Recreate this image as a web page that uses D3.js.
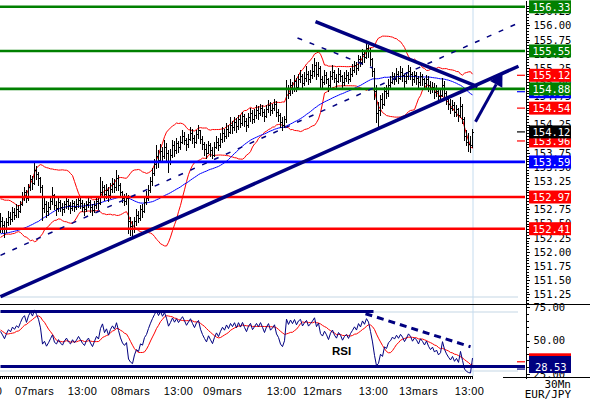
<!DOCTYPE html>
<html lang="en">
<head>
<meta charset="UTF-8">
<title>EUR/JPY 30Mn</title>
<script src="https://d3js.org/d3.v7.min.js"></script>
<style>
  body { margin: 0; background: #fff; }
  svg { display: block; }
  .ax text { font-family: "DejaVu Sans Mono", monospace; font-size: 10.5px; fill: #000; }
  .ax path, .ax line { stroke: #000; shape-rendering: crispEdges; }
  .xlab { font-family: "Liberation Sans", Arial, sans-serif; font-size: 11px; letter-spacing: 0.4px; }
  .tag text { font-family: "DejaVu Sans Mono", monospace; font-size: 10.5px; fill: #fff; }
  .foot { font-family: "DejaVu Sans Mono", monospace; font-size: 11px; }
</style>
</head>
<body>
<svg id="chart" width="590" height="400"></svg>
<script>
// closes before the first visible bar (only used to warm up the indicators)
const prior = [151.72, 151.65, 151.80, 151.70, 151.62, 151.78, 151.85, 151.75, 151.90, 151.95,
  152.25, 152.35, 152.28, 152.45, 152.60, 152.72, 152.85, 152.78, 152.90, 152.82,
  152.70, 152.75, 152.62, 152.55, 152.68, 152.50, 152.42, 152.55, 152.48, 152.40];

// 30 min bars, open = previous close
const hi = [152.68, 152.62, 152.55, 152.60, 152.72, 152.70, 152.80, 152.78, 152.84, 152.82,
  152.90, 153.05, 153.15, 153.10, 153.20, 153.35, 153.34, 153.58, 153.52, 153.42,
  153.32, 153.18, 152.95, 152.90, 152.88, 152.98, 153.15, 153.02, 152.90, 152.95,
  152.92, 152.86, 152.90, 152.96, 152.94, 152.88, 152.92, 152.90, 152.94, 152.98,
  152.95, 152.92, 152.86, 152.90, 152.96, 152.92, 152.84, 152.90, 152.98, 152.96,
  153.32, 153.25, 153.18, 153.20, 153.15, 153.22, 153.30, 153.28, 153.45,
  153.35, 153.22, 153.08, 153.02, 153.04, 153.00, 152.62, 152.55,
  152.62, 152.75, 152.72, 152.82, 152.85, 152.96, 153.08, 153.18, 153.32, 153.48, 153.65, 153.88,
  153.80, 153.90, 153.86, 153.98, 153.92, 153.80, 153.82, 153.98, 153.96, 154.02,
  153.96, 154.05, 154.15, 154.12, 154.02, 154.08, 154.20, 154.18, 154.06, 154.15, 154.25,
  154.15, 154.05, 153.95, 153.90, 153.96, 153.92, 153.85, 153.95, 154.05, 154.02, 154.10,
  154.20, 154.18, 154.28, 154.24, 154.38, 154.32,
  154.38, 154.36, 154.42, 154.42, 154.48, 154.44, 154.36, 154.45, 154.55, 154.50, 154.52, 154.60,
  154.58, 154.62, 154.60, 154.52, 154.60, 154.68, 154.64, 154.62, 154.70, 154.66, 154.52,
  154.45, 154.38, 154.40,
  155.04,
  154.95, 155.05, 155.00, 155.12, 155.08, 155.15, 155.22, 155.15, 155.18, 155.28, 155.20, 155.22, 155.32,
  155.42, 155.36, 155.35, 155.28,
  155.10, 155.22, 155.18, 155.08, 155.20, 155.30, 155.22, 155.14, 155.25, 155.22, 155.12, 155.18, 155.22, 155.18, 155.25, 155.32,
  155.38, 155.36, 155.48, 155.46, 155.58, 155.55, 155.69, 155.66, 155.60,
  155.42, 155.25, 154.95, 154.65,
  154.78, 154.80, 154.92, 154.95, 155.05, 155.10,
  155.18, 155.16, 155.25, 155.20, 155.28, 155.24, 155.15, 155.18, 155.30, 155.26, 155.18, 155.20, 155.18, 155.10, 155.18, 155.15, 155.08, 155.12,
  155.10, 155.02, 155.00, 154.98, 154.95, 154.90, 154.88, 155.08, 155.02, 154.85,
  154.75, 154.70, 154.68, 154.64, 154.60, 154.55, 154.74, 154.62,
  154.38, 154.15, 154.10, 154.05, 154.18];

const lo = [152.36, 152.36, 152.27, 152.36, 152.48, 152.50, 152.55, 152.58, 152.62, 152.62,
  152.70, 152.82, 152.92, 152.88, 152.92, 153.10, 153.12, 153.20, 153.28, 153.18,
  153.05, 152.56, 152.70, 152.62, 152.66, 152.76, 152.85, 152.75, 152.65, 152.72,
  152.72, 152.66, 152.70, 152.78, 152.75, 152.68, 152.74, 152.72, 152.76, 152.80,
  152.78, 152.72, 152.66, 152.72, 152.80, 152.70, 152.66, 152.70, 152.78, 152.76,
  152.85, 152.98, 152.92, 152.95, 152.90, 152.96, 153.05, 153.05, 153.10,
  153.10, 153.00, 152.88, 152.82, 152.85, 152.33, 152.30, 152.26,
  152.35, 152.48, 152.52, 152.56, 152.62, 152.70, 152.85, 152.92, 153.05, 153.18, 153.35, 153.48,
  153.50, 153.58, 153.62, 153.66, 153.62, 153.42, 153.55, 153.68, 153.70, 153.75,
  153.76, 153.82, 153.92, 153.90, 153.80, 153.86, 153.98, 153.92, 153.86, 153.92, 154.02,
  153.92, 153.82, 153.72, 153.66, 153.74, 153.70, 153.66, 153.70, 153.84, 153.80, 153.86,
  153.95, 153.96, 154.02, 154.04, 154.10, 154.10,
  154.15, 154.12, 154.18, 154.20, 154.24, 154.22, 154.14, 154.20, 154.32, 154.28, 154.30, 154.36,
  154.35, 154.42, 154.40, 154.32, 154.38, 154.48, 154.42, 154.45, 154.50, 154.40, 154.32,
  154.20, 154.15, 154.20,
  154.30,
  154.72, 154.78, 154.80, 154.85, 154.84, 154.88, 155.00, 154.90, 154.95, 155.02, 154.96, 155.00, 155.08,
  155.10, 155.05, 155.10, 154.92,
  154.88, 154.96, 154.98, 154.85, 154.92, 155.05, 155.00, 154.90, 155.00, 155.02, 154.90, 154.95, 155.02, 154.98, 155.02, 155.10,
  155.18, 155.15, 155.22, 155.28, 155.32, 155.36, 155.42, 155.45, 155.30,
  155.10, 154.70, 154.30, 154.20,
  154.42, 154.55, 154.60, 154.72, 154.75, 154.88,
  154.98, 154.96, 155.02, 154.98, 155.05, 155.02, 154.90, 154.98, 155.05, 155.05, 154.95, 155.00, 154.96, 154.90, 154.95, 154.94, 154.88, 154.92,
  154.85, 154.80, 154.82, 154.72, 154.75, 154.66, 154.68, 154.76, 154.70, 154.62,
  154.52, 154.45, 154.50, 154.40, 154.40, 154.32, 154.38, 154.28,
  153.98, 153.88, 153.78, 153.77, 153.85];

const cl = [152.55, 152.48, 152.40, 152.52, 152.62, 152.58, 152.70, 152.66, 152.75, 152.72,
  152.85, 152.98, 153.05, 152.95, 153.15, 153.28, 153.22, 153.45, 153.38, 153.30,
  153.15, 152.78, 152.85, 152.72, 152.80, 152.90, 153.00, 152.82, 152.78, 152.88,
  152.80, 152.75, 152.84, 152.90, 152.82, 152.78, 152.86, 152.80, 152.85, 152.92,
  152.86, 152.80, 152.76, 152.84, 152.88, 152.80, 152.74, 152.82, 152.90, 152.86,
  153.05, 153.15, 153.02, 153.10, 153.00, 153.12, 153.20, 153.15, 153.30,
  153.18, 153.05, 152.95, 152.90, 152.95, 152.55, 152.45, 152.40,
  152.55, 152.65, 152.60, 152.75, 152.72, 152.88, 152.95, 153.10, 153.25, 153.40, 153.55, 153.70,
  153.62, 153.78, 153.70, 153.85, 153.75, 153.60, 153.72, 153.88, 153.80, 153.92,
  153.85, 153.95, 154.05, 153.98, 153.90, 154.00, 154.10, 154.02, 153.95, 154.08, 154.15,
  154.00, 153.90, 153.82, 153.75, 153.88, 153.80, 153.72, 153.85, 153.95, 153.88, 154.00,
  154.10, 154.05, 154.18, 154.12, 154.25, 154.20,
  154.30, 154.22, 154.35, 154.28, 154.40, 154.32, 154.25, 154.38, 154.45, 154.35, 154.42, 154.50,
  154.45, 154.55, 154.48, 154.40, 154.52, 154.60, 154.50, 154.55, 154.62, 154.48, 154.42,
  154.30, 154.25, 154.35,
  154.90,
  154.80, 154.95, 154.88, 155.02, 154.92, 155.05, 155.10, 154.98, 155.08, 155.15, 155.05, 155.12, 155.20,
  155.30, 155.15, 155.25, 155.05,
  155.00, 155.12, 155.05, 154.95, 155.10, 155.18, 155.08, 155.02, 155.15, 155.10, 155.00, 155.08, 155.12, 155.05, 155.15, 155.22,
  155.30, 155.25, 155.40, 155.35, 155.50, 155.45, 155.60, 155.55, 155.40,
  155.20, 154.85, 154.45, 154.50,
  154.70, 154.62, 154.85, 154.80, 154.95, 155.00,
  155.10, 155.05, 155.15, 155.08, 155.18, 155.12, 155.02, 155.10, 155.20, 155.15, 155.05, 155.12, 155.08, 155.00, 155.10, 155.05, 154.98, 155.05,
  154.95, 154.88, 154.92, 154.82, 154.85, 154.75, 154.78, 154.95, 154.80, 154.70,
  154.62, 154.55, 154.60, 154.48, 154.52, 154.42, 154.58, 154.35,
  154.05, 153.95, 153.90, 153.88, 154.12];

// x axis labels, placed at bar index
const xLabels = ["13:00", "07mars", "13:00", "08mars", "13:00", "09mars", "13:00", "12mars", "13:00", "13mars", "13:00"];
const xLabelBars = [-6.5, 17, 41, 65, 89, 111, 140.5, 161, 186.5, 209, 234.5];

// horizontal support / resistance levels
const levelVals = [156.33, 155.55, 154.88, 153.59, 152.97, 152.41];
const levelKind = ["res", "res", "res", "pivot", "sup", "sup"];

// value tags on the price axis (drawn in this order)
const tagVals = [154.83, 155.12, 154.54, 153.96, 154.12, 156.33, 155.55, 154.88, 153.59, 152.97, 152.41];
const tagKind = ["ma", "band", "band", "band", "last", "res", "res", "res", "pivot", "sup", "sup"];
const rsiTagVals = [34.0, 28.53];
const rsiTagKind = ["rsima", "rsi"];

// hand drawn trendlines: [bar index, price]
const trendUp = [[0, 151.21], [259, 155.28]];
const trendDown = [[157.5, 156.07], [238.5, 154.92]];
const channelUp = [[0, 151.94], [260, 156.06]];
const channelDown = [[148.5, 155.78], [186, 155.25]];
const arrowPts = [[237.5, 154.30], [251, 155.16]];

// RSI annotations: [start bar, end bar, level] and a falling dashed line
const rsiLevels = [[0, 186.5, 71.8], [0, 262.5, 30.5]];
const rsiTrend = [[182.5, 70.2], [235, 45.3]];

const colors = { res: "#008000", pivot: "#0000ff", sup: "#ff0000", band: "#ff0000",
  ma: "#0000ff", last: "#000000", rsima: "#ff0000", rsi: "#000080" };
const navy = "#000080";

const axisX = 525, mainBot = 304, rsiTop = 304, rsiBot = 378;

const svg = d3.select("#chart");
const x = d3.scaleLinear().domain([0, 262.5]).range([0.5, 525.5]);
const y = d3.scaleLinear().domain([151.08, 156.45]).range([mainBot, 0]);
const yr = d3.scaleLinear().domain([21.8, 77.5]).range([rsiBot, rsiTop]);

const defs = svg.append("defs");
defs.append("clipPath").attr("id", "clipMain").append("rect")
  .attr("x", 0).attr("y", 0).attr("width", axisX).attr("height", mainBot);
defs.append("clipPath").attr("id", "clipRsi").append("rect")
  .attr("x", 0).attr("y", rsiTop).attr("width", axisX).attr("height", rsiBot - rsiTop);

// ----- indicators -----
const all = prior.concat(cl);
const off = prior.length;
const upper = [], lower = [], ma50 = [];
cl.forEach((c, i) => {
  const j = i + off;
  const w = all.slice(Math.max(0, j - 19), j + 1);
  const m = d3.mean(w);
  const sd = Math.sqrt(d3.mean(w, v => (v - m) * (v - m)));
  upper.push(m + 2 * sd);
  lower.push(m - 2 * sd);
  ma50.push(d3.mean(all.slice(Math.max(0, j - 49), j + 1)));
});

function rsiCalc(arr, n) {
  const out = new Array(arr.length).fill(null);
  let ag = 0, al = 0;
  for (let k = 1; k < arr.length; k++) {
    const ch = arr[k] - arr[k - 1];
    const g = Math.max(ch, 0), l = Math.max(-ch, 0);
    if (k <= n) { ag += g / n; al += l / n; }
    else { ag = (ag * (n - 1) + g) / n; al = (al * (n - 1) + l) / n; }
    if (k >= n) out[k] = al === 0 ? 100 : 100 - 100 / (1 + ag / al);
  }
  return out;
}
const rsiAll = rsiCalc(all, 14);
const rsi = rsiAll.slice(off);
const rsiMa = rsi.map((v, i) => d3.mean(rsiAll.slice(i + off - 8, i + off + 1)));

// ----- frame -----
const frame = svg.append("g").attr("stroke", "#d9e5ee").attr("stroke-width", 1.5);
[y.invert(7), y.invert(mainBot - 7)].forEach(v => {
  frame.append("line").attr("x1", 0).attr("x2", 518).attr("y1", y(v)).attr("y2", y(v));
});
[yr.invert(rsiTop + 8), yr.invert(rsiBot - 7)].forEach(v => {
  frame.append("line").attr("x1", 0).attr("x2", 518).attr("y1", yr(v)).attr("y2", yr(v));
});
svg.append("line").attr("x1", x(cl.length - 1) + 0.5).attr("x2", x(cl.length - 1) + 0.5)
  .attr("y1", 0).attr("y2", 376).attr("stroke", "#c5dcef").attr("stroke-width", 1);

// ----- main panel -----
const main = svg.append("g").attr("clip-path", "url(#clipMain)");
const line = d3.line().x((d, i) => x(i)).y(d => y(d));

main.append("path").attr("d", line(upper)).attr("fill", "none").attr("stroke", colors.band).attr("stroke-width", 1);
main.append("path").attr("d", line(lower)).attr("fill", "none").attr("stroke", colors.band).attr("stroke-width", 1);
main.append("path").attr("d", line(ma50)).attr("fill", "none").attr("stroke", colors.ma).attr("stroke-width", 1);

let bars = "";
cl.forEach((c, i) => {
  const o = i ? cl[i - 1] : prior[prior.length - 1];
  const bx = Math.round(x(i) - 0.5);
  const yo = Math.round(y(o)) + 0.5, yc = Math.round(y(c)) + 0.5;
  bars += `M${bx + 0.5},${Math.round(y(hi[i]))}V${Math.round(y(lo[i])) + 1}`;
  bars += `M${bx - 1},${yo}H${bx}M${bx + 1},${yc}H${bx + 2}`;
});
main.append("path").attr("d", bars).attr("fill", "none").attr("stroke", "#000")
  .attr("stroke-width", 1).style("shape-rendering", "crispEdges");

levelVals.forEach((v, k) => {
  main.append("line").attr("x1", 0).attr("x2", axisX).attr("y1", y(v)).attr("y2", y(v))
    .attr("stroke", colors[levelKind[k]]).attr("stroke-width", 2.6);
});

const seg = d3.line().x(d => x(d[0])).y(d => y(d[1]));
main.append("path").attr("d", seg(channelUp)).attr("stroke", navy).attr("stroke-width", 1.5)
  .attr("stroke-dasharray", "5,8").attr("fill", "none");
main.append("path").attr("d", seg(channelDown)).attr("stroke", navy).attr("stroke-width", 1.5)
  .attr("stroke-dasharray", "5,8").attr("fill", "none");
main.append("path").attr("d", seg(trendUp)).attr("stroke", navy).attr("stroke-width", 3.5).attr("fill", "none");
main.append("path").attr("d", seg(trendDown)).attr("stroke", navy).attr("stroke-width", 3.5).attr("fill", "none");

// arrow
{
  const x0 = x(arrowPts[0][0]), y0 = y(arrowPts[0][1]);
  const x1 = x(arrowPts[1][0]), y1 = y(arrowPts[1][1]);
  const len = Math.hypot(x1 - x0, y1 - y0), ux = (x1 - x0) / len, uy = (y1 - y0) / len;
  const hl = 13, hw = 7;
  const bx = x1 - ux * hl, by = y1 - uy * hl;
  main.append("line").attr("x1", x0).attr("y1", y0).attr("x2", bx).attr("y2", by)
    .attr("stroke", navy).attr("stroke-width", 3);
  main.append("path").attr("fill", navy)
    .attr("d", `M${x1},${y1}L${bx - uy * hw},${by + ux * hw}L${bx + uy * hw},${by - ux * hw}Z`);
}

// ----- RSI panel -----
const rp = svg.append("g").attr("clip-path", "url(#clipRsi)");
const rline = d3.line().x((d, i) => x(i)).y(d => yr(d));
rp.append("path").attr("d", rline(rsiMa)).attr("fill", "none").attr("stroke", colors.rsima).attr("stroke-width", 1);
rp.append("path").attr("d", rline(rsi)).attr("fill", "none").attr("stroke", navy).attr("stroke-width", 1);
rsiLevels.forEach(d => {
  rp.append("line").attr("x1", x(d[0])).attr("x2", x(d[1])).attr("y1", yr(d[2])).attr("y2", yr(d[2]))
    .attr("stroke", navy).attr("stroke-width", 3);
});
rp.append("path").attr("d", d3.line().x(d => x(d[0])).y(d => yr(d[1]))(rsiTrend))
  .attr("stroke", navy).attr("stroke-width", 3).attr("stroke-dasharray", "7,5").attr("fill", "none");
svg.append("text").attr("x", 332).attr("y", 355).text("RSI")
  .attr("font-family", "Liberation Sans, Arial, sans-serif").attr("font-weight", "bold").attr("font-size", 11.5);

// separators
svg.append("line").attr("x1", 0).attr("x2", 590).attr("y1", rsiTop + 0.5).attr("y2", rsiTop + 0.5)
  .attr("stroke", "#000").attr("stroke-width", 1);
svg.append("line").attr("x1", 503).attr("x2", 590).attr("y1", rsiBot - 0.5).attr("y2", rsiBot - 0.5)
  .attr("stroke", "#000").attr("stroke-width", 1);

// ----- axes -----
const fmt = d3.format(".2f");
const majorP = d3.range(5, 26).map(k => 150 + k * 0.25);
const minorP = d3.range(2, 108).map(k => 151 + k * 0.05);
svg.append("g").attr("class", "ax").attr("transform", `translate(${axisX + 0.5},0)`)
  .call(d3.axisRight(y).tickValues(minorP).tickFormat("").tickSize(3).tickSizeOuter(0));
svg.append("g").attr("class", "ax").attr("transform", `translate(${axisX + 0.5},0)`)
  .call(d3.axisRight(y).tickValues(majorP).tickFormat(fmt).tickSize(4).tickPadding(4).tickSizeOuter(0));
svg.append("g").attr("class", "ax").attr("transform", `translate(${axisX + 0.5},0)`)
  .call(d3.axisRight(yr).tickValues(d3.range(25, 80, 5)).tickFormat("").tickSize(3).tickSizeOuter(0));
svg.append("g").attr("class", "ax").attr("transform", `translate(${axisX + 0.5},0)`)
  .call(d3.axisRight(yr).tickValues([25, 50, 75]).tickFormat(fmt).tickSize(4).tickPadding(4).tickSizeOuter(0));

// time axis: one tick per bar
const xt = svg.append("g").attr("stroke", "#000").style("shape-rendering", "crispEdges");
xt.append("line").attr("x1", 0).attr("x2", x(cl.length - 1) + 0.5).attr("y1", 376.5).attr("y2", 376.5);
cl.forEach((c, i) => {
  xt.append("line").attr("x1", x(i)).attr("x2", x(i)).attr("y1", 376).attr("y2", 379);
});
svg.selectAll(".xlab").data(xLabels).join("text").attr("class", "xlab")
  .attr("x", (d, i) => x(xLabelBars[i])).attr("y", 395).attr("text-anchor", "middle").text(d => d);

svg.append("text").attr("class", "foot").attr("x", 571).attr("y", 388).attr("text-anchor", "end").text("30Mn");
svg.append("text").attr("class", "foot").attr("x", 571).attr("y", 397.5).attr("text-anchor", "end").text("EUR/JPY");

// ----- value tags -----
const tags = svg.append("g").attr("class", "tag");
tagVals.forEach((v, k) => {
  const c = colors[tagKind[k]], ty = y(v);
  tags.append("line").attr("x1", 517).attr("x2", axisX).attr("y1", ty).attr("y2", ty).attr("stroke", c).attr("stroke-width", 1.2);
  tags.append("rect").attr("x", 529).attr("y", ty - 6.5).attr("width", 42).attr("height", 13).attr("fill", c);
  tags.append("text").attr("x", 532.5).attr("y", ty + 4).text(fmt(v));
});
rsiTagVals.forEach((v, k) => {
  const c = colors[rsiTagKind[k]], ty = yr(v);
  const top = Math.min(ty - 8.5, 356);
  tags.append("line").attr("x1", 517).attr("x2", axisX).attr("y1", ty).attr("y2", ty).attr("stroke", c).attr("stroke-width", 1.2);
  tags.append("rect").attr("x", 529).attr("y", top).attr("width", 42).attr("height", 17).attr("fill", c);
  tags.append("text").attr("x", 535).attr("y", top + 15).text(fmt(v));
});
</script>
</body>
</html>
